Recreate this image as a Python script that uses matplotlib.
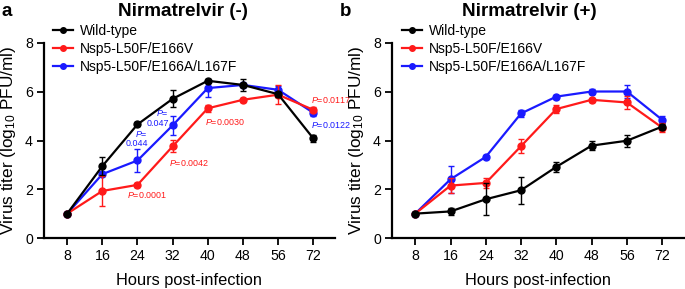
import matplotlib
matplotlib.use("Agg")
import matplotlib.pyplot as plt
from matplotlib.container import ErrorbarContainer

plt.rcParams['font.family'] = ['Liberation Sans', 'DejaVu Sans']
plt.rcParams['mathtext.fontset'] = 'custom'
plt.rcParams['mathtext.rm'] = 'Liberation Sans'
plt.rcParams['mathtext.it'] = 'Liberation Sans:italic'

hours = ["8", "16", "24", "32", "40", "48", "56", "72"]
series_names = ["Wild-type", "Nsp5-L50F/E166V", "Nsp5-L50F/E166A/L167F"]
colors = ["#000000", "#ff1a1a", "#1a1aff"]

# Panel a: Nirmatrelvir (-)
a_wt = [1.0, 2.95, 4.66, 5.71, 6.45, 6.28, 5.90, 4.09]
a_wt_err = [0.03, 0.38, 0.08, 0.35, 0.08, 0.25, 0.10, 0.15]
a_v = [1.0, 1.93, 2.18, 3.76, 5.32, 5.67, 5.88, 5.26]
a_v_err = [0.03, 0.63, 0.08, 0.25, 0.15, 0.08, 0.40, 0.10]
a_af = [1.0, 2.62, 3.18, 4.62, 6.15, 6.28, 6.08, 5.14]
a_af_err = [0.03, 0.08, 0.47, 0.38, 0.35, 0.08, 0.15, 0.15]

# Panel b: Nirmatrelvir (+)
b_wt = [1.0, 1.09, 1.59, 1.96, 2.92, 3.79, 3.99, 4.57]
b_wt_err = [0.05, 0.15, 0.65, 0.55, 0.20, 0.20, 0.25, 0.10]
b_v = [1.0, 2.15, 2.26, 3.77, 5.29, 5.67, 5.56, 4.53]
b_v_err = [0.03, 0.30, 0.22, 0.28, 0.15, 0.08, 0.25, 0.20]
b_af = [1.0, 2.41, 3.33, 5.11, 5.80, 6.01, 6.01, 4.85]
b_af_err = [0.03, 0.55, 0.08, 0.15, 0.08, 0.12, 0.25, 0.15]

# P-value annotations for panel a (one-line, left aligned at given x)
pvals_txt = ["0.0001", "0.0042", "0.0030", "0.0117", "0.0122"]
pvals_col = [1, 1, 1, 1, 2]
pvals_x = [1.69, 2.89, 3.91, 6.94, 6.94]
pvals_y = [1.75, 3.07, 4.76, 5.67, 4.64]
# two-line blue annotations (right aligned at given x)
pvals2_txt = ["0.044", "0.047"]
pvals2_x = [2.29, 2.89]
pvals2_y = [4.08, 4.93]

fig = plt.figure(figsize=(6.85, 2.89), dpi=100)
ax_a = fig.add_axes([44/685, 51/289, 291/685, 195/289])
ax_b = fig.add_axes([392/685, 51/289, 292/685, 195/289])

x = list(range(len(hours)))

def draw(ax, data, errs, legend_x):
    zs = [5, 4, 3]
    for i, (y, e) in enumerate(zip(data, errs)):
        ax.errorbar(x, y, yerr=e, color=colors[i], lw=1.6, marker='o', ms=5,
                    capsize=2.5, capthick=1.0, elinewidth=1.0, zorder=zs[i],
                    label=series_names[i])
    ax.set_xlim(-0.66, 7.62)
    ax.set_ylim(0, 8)
    ax.set_xticks(x)
    ax.set_xticklabels(hours)
    ax.set_yticks([0, 2, 4, 6, 8])
    for s in ['top', 'right']:
        ax.spines[s].set_visible(False)
    for s in ['left', 'bottom']:
        ax.spines[s].set_linewidth(1.6)
    ax.tick_params(axis='both', labelsize=10.2, width=1.3, length=5, pad=3)
    ax.set_xlabel("Hours post-infection", fontsize=11.8, labelpad=7)
    ax.set_ylabel("Virus titer (log$_{10}$ PFU/ml)", fontsize=12.4, labelpad=5)
    h, l = ax.get_legend_handles_labels()
    handles = [hh[0] if isinstance(hh, ErrorbarContainer) else hh for hh in h]
    ax.legend(handles, l, loc='upper left', bbox_to_anchor=(legend_x, 1 - 24/289),
              bbox_transform=fig.transFigure, frameon=False, fontsize=10,
              borderpad=0, borderaxespad=0, handlelength=1.45, handletextpad=0.5,
              labelspacing=0.28, markerscale=0.8)

draw(ax_a, [a_wt, a_v, a_af], [a_wt_err, a_v_err, a_af_err], 53/685)
draw(ax_b, [b_wt, b_v, b_af], [b_wt_err, b_v_err, b_af_err], 402/685)

for px, py, t, c in zip(pvals_x, pvals_y, pvals_txt, pvals_col):
    ax_a.text(px, py, "$\\it{P}$=" + t, color=colors[c], fontsize=6.4,
              ha='left', va='center')
for px, py, t in zip(pvals2_x, pvals2_y, pvals2_txt):
    ax_a.text(px, py, "$\\it{P}$=\n" + t, color=colors[2], fontsize=6.4,
              ha='right', va='center', multialignment='right', linespacing=1.1)

fig.text(183/685, 1 - 11/289, "Nirmatrelvir (-)", fontsize=13.6, fontweight='bold',
         ha='center', va='center')
fig.text(529/685, 1 - 12/289, "Nirmatrelvir (+)", fontsize=13.6, fontweight='bold',
         ha='center', va='center')
fig.text(1/685, 1 - 11/289, "a", fontsize=13.5, fontweight='bold', ha='left', va='center')
fig.text(340/685, 1 - 12/289, "b", fontsize=13.5, fontweight='bold', ha='left', va='center')

fig.savefig("out.png", dpi=100)
